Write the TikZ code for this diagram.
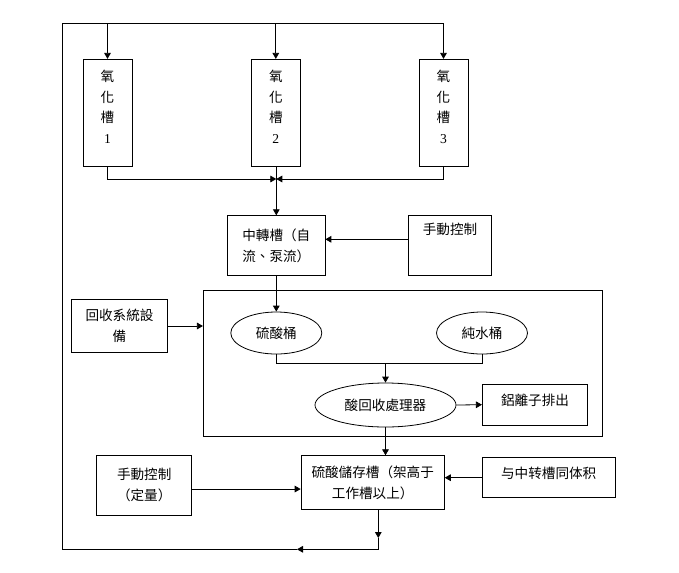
\documentclass[tikz,border=0pt]{standalone}
\usepackage{fontspec}
\setmainfont{Liberation Serif}
\newfontfamily\cjk{Noto Sans CJK TC}
\usepackage{tikz}
\usetikzlibrary{shapes.geometric,arrows.meta}
\newcommand{\tanktext}[1]{\parbox[c][80pt][t]{34pt}{\centering\vspace*{7.5pt}氧\\化\\槽\\{\rmfamily #1}\par}}

\begin{document}
\begin{tikzpicture}[x=0.75pt,y=-0.75pt,line width=0.6pt,>={Triangle[length=4.5pt,width=5pt]}]
	\tikzstyle{every node}=[font=\cjk\fontsize{10.2pt}{15.7pt}\selectfont]
	\tikzstyle{tank}=[draw,inner sep=0pt,minimum width=36.75pt,minimum height=80.6pt]
	\tikzstyle{box}=[draw,inner sep=0pt,align=center]
	\tikzstyle{barrel}=[draw,ellipse,inner sep=0pt,minimum width=68.25pt,minimum height=31.5pt]
	\useasboundingbox (0,0) rectangle (679,572);
	
	% oxidation tanks
	\node[tank] (t1) at (107.5,113) {\tanktext{1}};
	\node[tank] (t2) at (275.8,113) {\tanktext{2}};
	\node[tank] (t3) at (443.5,113) {\tanktext{3}};
	
	\node[box,minimum width=73pt,minimum height=45pt] (zz) at (276.3,245.7) {中轉槽（自\\流、泵流）};
	\node[box,minimum width=62.5pt,text height=14.1pt,text depth=30.9pt] (sd) at (450,245.7) {手動控制};
	\node[box,minimum width=71.7pt,minimum height=40pt] (hs) at (119.5,326) {回收系統設\\備};
	
	% recovery unit
	\node[draw,inner sep=0pt,minimum width=299.5pt,minimum height=110pt] (unit) at (403,363.3) {};
	\node[barrel] (sb) at (276.3,333) {硫酸桶};
	\node[barrel] (cs) at (482,333)   {純水桶};
	\node[barrel,minimum width=105.75pt,minimum height=33pt] (sc) at (385.5,405) {酸回收處理器};
	\node[box,minimum width=79pt,text height=15.9pt,text depth=14.6pt] (lz) at (535,404.7) {鋁離子排出};
	
	\node[box,minimum width=107.5pt,minimum height=40.2pt] (cc) at (372.7,482.5) {硫酸儲存槽（架高于\\工作槽以上）};
	\node[box,minimum width=71.25pt,minimum height=44.5pt] (sq) at (144.2,485.3) {手動控制\\（定量）};
	\node[box,minimum width=99.5pt,text height=15.6pt,text depth=14.4pt] (tz) at (548.7,477.7) {与中转槽同体积};
	
	\coordinate (join) at (276.3,179);
	\coordinate (mix)  at (385.5,363.3);
	\coordinate (drop) at (378.3,538);
	\coordinate (corner) at (378.3,549.3);
	\coordinate (mid)  at (297,549.3);
	\coordinate (lb)   at (62.3,549.3);
	\coordinate (lt)   at (62.3,23.3);
	
	\draw[->] (t1.south) |- (join);
	\draw[->] (t3.south) |- (join);
	\draw[->] (join |- t2.south) -- (join |- zz.north);
	\draw[->] ([yshift=4.8pt]sd.west) -- ([yshift=4.8pt]zz.east);
	\draw[->] (zz.south) -- (sb.north);
	\draw[->] (hs.east) -- (hs.east -| unit.west);
	\draw (sb.south) |- (mix) -| (cs.south);
	\draw[->] (mix) -- (mix |- sc.north);
	\draw[->] (sc.east) -- (lz.west);
	\draw[->] (sc.south) -- (sc.south |- cc.north);
	\draw[->] ([yshift=-2.8pt]sq.east) -- ([yshift=-2.8pt]sq.east -| cc.west);
	\draw[->] (tz.west) -- (tz.west -| cc.east);
	
	% return line
	\draw[->] (cc.south -| drop) -- (drop);
	\draw[->] (drop) -- (corner) -- (mid);
	\draw (mid) -- (lb) -- (lt) -- (t3.north |- lt);
	\foreach \t in {t1,t2,t3}
		\draw[->] (\t.north |- lt) -- (\t.north);
\end{tikzpicture}
\end{document}
